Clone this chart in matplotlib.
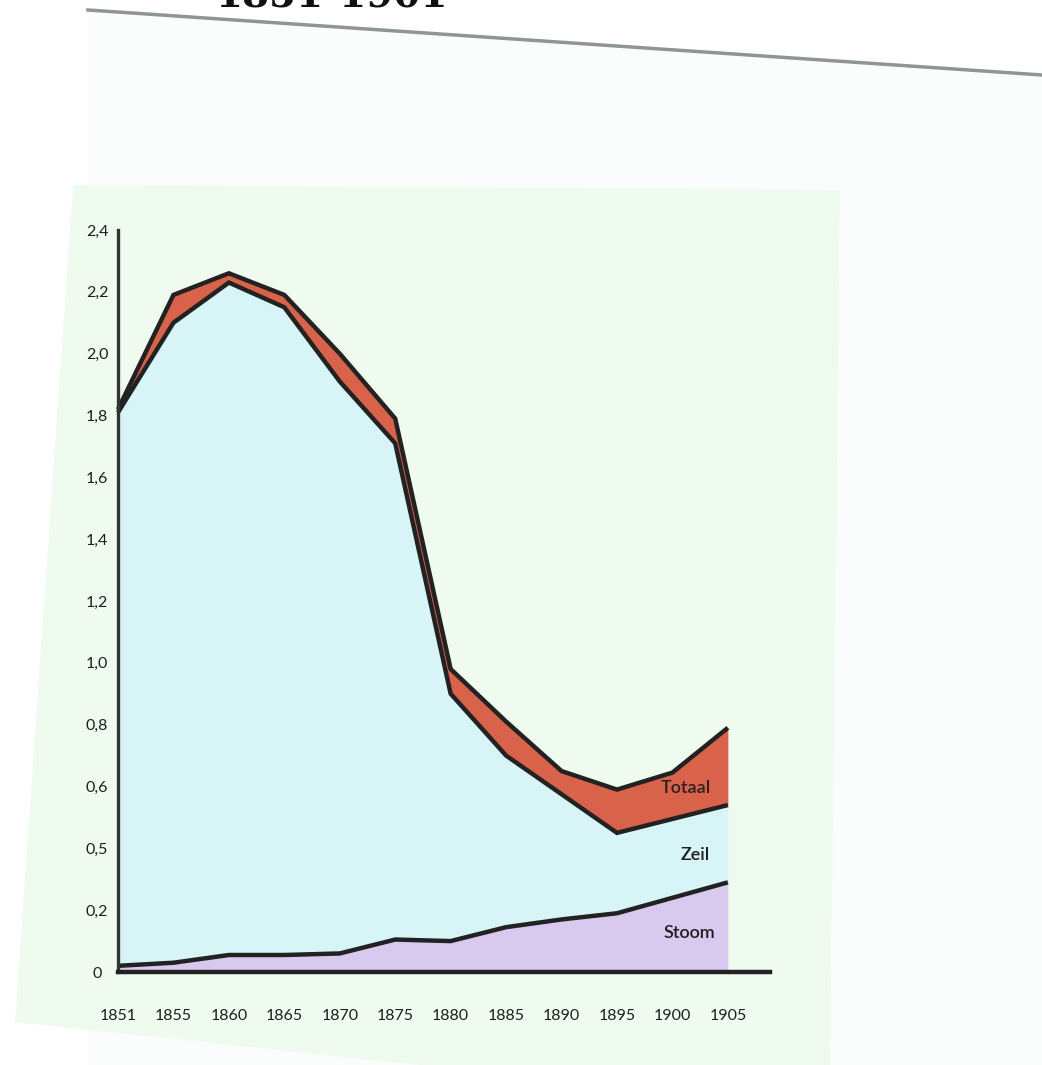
import matplotlib
matplotlib.use("Agg")
import matplotlib.pyplot as plt
from matplotlib.patches import Polygon
from matplotlib.lines import Line2D
import numpy as np

# ---------------- data ----------------
years = ["1851", "1855", "1860", "1865", "1870", "1875",
         "1880", "1885", "1890", "1895", "1900", "1905"]
totaal = [1.82, 2.19, 2.26, 2.19, 2.00, 1.79, 0.98, 0.81, 0.65, 0.59, 0.645, 0.79]
zeil = [1.81, 2.10, 2.23, 2.15, 1.91, 1.71, 0.90, 0.70, 0.575, 0.45, 0.495, 0.54]
stoom = [0.02, 0.03, 0.055, 0.055, 0.06, 0.105, 0.10, 0.145, 0.170, 0.19, 0.24, 0.29]
y_ticks = [0.0, 0.2, 0.4, 0.6, 0.8, 1.0, 1.2, 1.4, 1.6, 1.8, 2.0, 2.2, 2.4]
y_labels = ["0", "0,2", "0,5", "0,6", "0,8", "1,0", "1,2", "1,4",
            "1,6", "1,8", "2,0", "2,2", "2,4"]
series_labels = ["Totaal", "Zeil", "Stoom"]

# ---------------- figure ----------------
W, H = 1042, 1065
fig = plt.figure(figsize=(W / 100, H / 100), dpi=100)
fig.patch.set_facecolor("white")
plt.rcParams["font.family"] = ["Lato", "DejaVu Sans"]


def px(x, y):
    return (x / W, 1 - y / H)


# scanned page background
fig.add_artist(Polygon([px(88, 10), px(1042, 75), px(1042, 1065), px(88, 1065)],
                       closed=True, transform=fig.transFigure,
                       facecolor="#fbfcfc", edgecolor="none", zorder=-3))
fig.add_artist(Line2D([88 / W, 1.0], [1 - 10 / H, 1 - 75 / H],
                      transform=fig.transFigure, color="#8d9598", lw=2.5, zorder=-2))
# greenish sheet under the chart
fig.add_artist(Polygon([px(73, 185), px(840, 190), px(830, 1065), px(420, 1065),
                        px(15, 1022)],
                       closed=True, transform=fig.transFigure,
                       facecolor="#effbef", edgecolor="none", zorder=-1))
# cut-off heading at the very top (as in the scan)
fig.text(215 / W, 1 - 8 / H, "1851-1901", fontsize=28, fontweight="bold",
         family="DejaVu Serif", color="#111", ha="left", va="baseline")

# ---------------- axes ----------------
ax_l, ax_r, ax_b, ax_t = 118, 770, 972, 230
ax = fig.add_axes([ax_l / W, 1 - ax_b / H, (ax_r - ax_l) / W, (ax_b - ax_t) / H])
ax.set_facecolor("none")
ax.set_zorder(1)

x = np.arange(len(years))
ax.set_xlim(0, 11.76)
ax.set_ylim(0, 2.4)

ax.fill_between(x, 0, stoom, color="#d8caee", lw=0, zorder=1)
ax.fill_between(x, stoom, zeil, color="#d7f5f7", lw=0, zorder=1)
ax.fill_between(x, zeil, totaal, color="#d9624b", lw=0, zorder=1)

for s in (stoom, zeil, totaal):
    ax.plot(x, s, color="#222222", lw=3.2, solid_joinstyle="miter",
            solid_capstyle="butt", zorder=3, clip_on=False)

for side in ("top", "right"):
    ax.spines[side].set_visible(False)
ax.spines["left"].set_color("#333333")
ax.spines["left"].set_linewidth(2.4)
ax.spines["bottom"].set_color("#222222")
ax.spines["bottom"].set_linewidth(3.2)
ax.spines["left"].set_zorder(4)
ax.spines["bottom"].set_zorder(4)

ax.set_xticks(x)
ax.set_xticklabels(years)
ax.set_yticks(y_ticks)
ax.set_yticklabels(y_labels)
ax.tick_params(axis="both", length=0, labelsize=11.5, labelcolor="#1e1e1e")
ax.tick_params(axis="y", pad=15)
ax.tick_params(axis="x", pad=27)
for lbl in ax.get_yticklabels():
    lbl.set_ha("center")

# series labels inside the areas
ax.text(10.25, 0.595, series_labels[0], ha="center", va="center",
        fontsize=13, fontweight="semibold", color="#2a2020", zorder=5)
ax.text(10.41, 0.38, series_labels[1], ha="center", va="center",
        fontsize=13, fontweight="semibold", color="#1e1e1e", zorder=5)
ax.text(10.3, 0.126, series_labels[2], ha="center", va="center",
        fontsize=13, fontweight="semibold", color="#1e1e1e", zorder=5)

fig.savefig("out.png", dpi=100, facecolor=fig.get_facecolor())
